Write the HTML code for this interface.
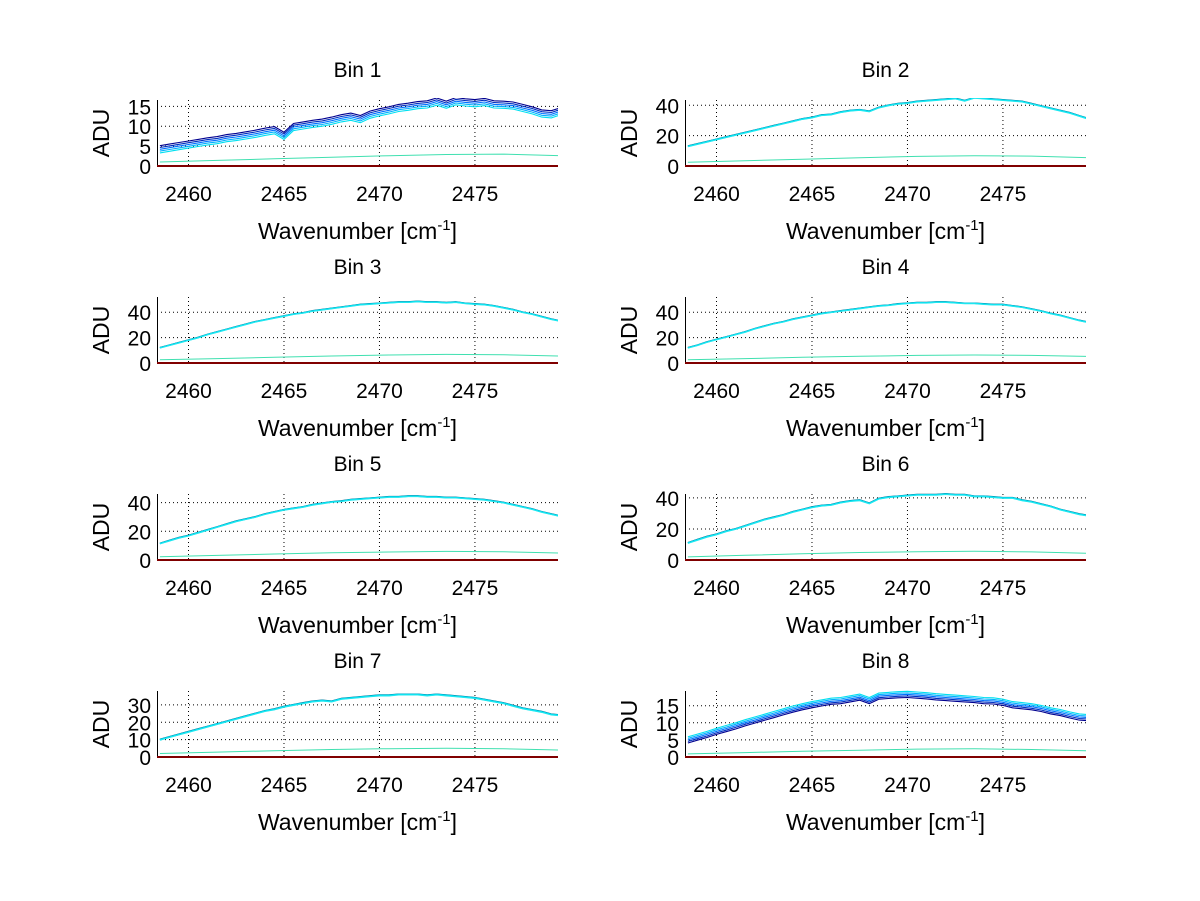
<!DOCTYPE html>
<html><head><meta charset="utf-8"><style>
html,body{margin:0;padding:0;background:#fff;}
svg{display:block;font-family:"Liberation Sans",sans-serif;}
</style></head><body>
<svg id="fig" width="1200" height="901" viewBox="0 0 1200 901" xmlns="http://www.w3.org/2000/svg">
<rect width="1200" height="901" fill="#fff"/>
</svg>
<script>
const xTicks = [2460, 2465, 2470, 2475];
const xMin = 2458.35, xMax = 2479.35;
const xStart = 2458.5, xStep = 0.5;
const lowStep = 3;
const binTitles = ["Bin 1","Bin 2","Bin 3","Bin 4","Bin 5","Bin 6","Bin 7","Bin 8"];
const yMaxes = [16.6, 43.5, 52, 52, 46, 42.5, 38, 19.3];
const yTicks1 = [0,5,10,15];
const yTicks2 = [0,20,40];
const yTicks7 = [0,10,20,30];
const yTicks8 = [0,5,10,15];
const bin1 = [4.2,4.6,5.0,5.4,5.8,6.2,6.5,7.0,7.3,7.7,8.1,8.6,9.0,7.6,9.8,10.2,10.6,10.9,11.4,12.0,12.4,11.8,12.9,13.5,14.0,14.6,14.9,15.3,15.5,16.2,15.4,16.3,16.0,15.8,16.1,15.5,15.4,15.2,14.6,14.0,13.2,13.0,13.8];
const bin2 = [13,14.5,16,17.5,19,20.5,22,23.5,25,26.5,28,29.5,31,32,33.5,34,35.5,36.5,37,36,38.5,40,41,41.5,42.5,43,43.5,44,44.5,43,45,44.5,44,43.5,43,42.5,41,39.5,38,36.5,35,33,31];
const bin3 = [12,14,16,18,20,22.5,24.5,26.5,28.5,30.5,32.5,34,35.5,37,38.5,39.5,41,42,43,44,45,46,46.5,47,47.5,48,48,48.5,48,48,47.5,48,47,46.5,46,45,43.5,42,40,38.5,36.5,34.5,33];
const bin4 = [12,14,16.5,18.5,20.5,22.5,24.5,27,29,31,32.5,34.5,36,37.5,39,40,41,42,43,44,45,45.5,46.5,47,47.5,47.5,48,48,47.5,47,47,46.5,46,46,45,44,42.5,41,39,37.5,35.5,33.5,32];
const bin5 = [11.5,13.5,15.5,17,19,21,23,25,27,28.5,30,32,33.5,35,36,37,38.5,39.5,40.5,41,42,42.5,43,43.5,44,44,44.5,44.5,44,44,43.5,43.5,43,42.5,42,41,40,38.5,37,35.5,33.5,32,30.5];
const bin6 = [11,13,15,16.5,18.5,20,22,24,26,27.5,29,31,32.5,34,35,35.5,37,38,38.5,36.5,39.5,40.5,41,41.5,42,42,42,42.5,42,42,41,41,40.5,40,40,38.5,37.5,36,34.5,32.5,31,29.5,28.5];
const bin7 = [10,11.5,13,14.5,16,17.5,19,20.5,22,23.5,25,26.5,27.5,29,30,31,32,32.5,32,33.5,34,34.5,35,35.5,35.5,36,36,36,35.5,36,35.5,35,34.5,34,33,32,31,29.5,28,27,26,24.5,24];
const bin8 = [5,5.8,6.6,7.5,8.3,9.1,10,10.8,11.6,12.4,13.2,14,14.7,15.3,15.8,16.3,16.5,17,17.5,16.5,17.8,18,18.2,18.3,18.1,17.9,17.6,17.4,17.2,17,16.8,16.5,16.4,16,15.3,15,14.7,14.2,13.5,13,12.3,11.7,11.5];
const low1 = [1.0,1.4,1.8,2.2,2.6,2.9,3.0,2.6];
const low2 = [2.5,3.5,4.5,5.5,6.3,6.8,6.5,5.5];
const low3 = [2.5,3.5,4.5,5.5,6.3,6.8,6.5,5.5];
const low4 = [2.5,3.5,4.5,5.3,6.0,6.3,6.0,5.2];
const low5 = [2.2,3.2,4.2,5.0,5.6,6.0,5.7,4.8];
const low6 = [2.0,3.0,4.0,4.8,5.3,5.6,5.2,4.3];
const low7 = [2.0,2.8,3.6,4.3,4.8,5.0,4.7,4.0];
const low8 = [0.9,1.3,1.7,2.0,2.3,2.4,2.2,1.8];
const spread1 = [0.9,0.45,0,-0.45,-0.9];
const spread8 = [-0.9,-0.45,0,0.45,0.9];
const spreadFlat = [0.3,0.15,0,-0.15,-0.3];
const shades = ["#00008f","#0030c0","#0070ff","#00b0ff","#00e0f0"];
const flatShades = ["#006080","#00c0e0","#00d8f0","#00e0f0","#20e8f0"];

const mains=[bin1,bin2,bin3,bin4,bin5,bin6,bin7,bin8];
const lows=[low1,low2,low3,low4,low5,low6,low7,low8];
const yTicksAll=[yTicks1,yTicks2,yTicks2,yTicks2,yTicks2,yTicks2,yTicks7,yTicks8];
const spreads=[spread1,spreadFlat,spreadFlat,spreadFlat,spreadFlat,spreadFlat,spreadFlat,spread8];

const NS="http://www.w3.org/2000/svg";
const fig=document.getElementById('fig');
function mk(tag,attrs,parent,text){const e=document.createElementNS(NS,tag);for(const k in attrs)e.setAttribute(k,attrs[k]);if(text!==undefined)e.textContent=text;parent.appendChild(e);return e;}

for(let b=0;b<8;b++){
  const col=b%2,row=Math.floor(b/2);
  const L=col?685:157, R=L+401, T=100+row*197, B=166+row*197;
  const ymax=yMaxes[b];
  const xs=v=>L+(v-xMin)/(xMax-xMin)*(R-L);
  const ys=v=>B-v/ymax*(B-T);
  const g=mk('g',{},fig);
  
  
  const clipId='c'+b;
  const cp=mk('clipPath',{id:clipId},g);mk('rect',{x:L,y:T-2,width:R-L,height:B-T+4},cp);
  xTicks.forEach(t=>{const l=mk('line',{x1:xs(t),x2:xs(t),y1:T,y2:B,stroke:'#000','stroke-width':1,'stroke-dasharray':'1,3'},g);
    
    const tx=mk('text',{x:xs(t),y:B+35,'font-size':21,'text-anchor':'middle'},g,String(t));
    });
  yTicksAll[b].forEach(t=>{if(t>0){const l=mk('line',{x1:L,x2:R,y1:ys(t),y2:ys(t),stroke:'#000','stroke-width':1,'stroke-dasharray':'1,3'},g);
    }
    const tx=mk('text',{x:L-6,y:ys(t)+8,'font-size':21,'text-anchor':'end'},g,String(t));
    });
  const ax=mk('line',{x1:L+0.5,x2:L+0.5,y1:T,y2:B,stroke:'#000','stroke-width':1},g);
  
  const dg=mk('g',{'clip-path':'url(#'+clipId+')'},g);
  const lp=lows[b].map((v,i)=>xs(xStart+i*lowStep).toFixed(1)+','+ys(v).toFixed(1)).join(' ');
  const low=mk('polyline',{points:lp,fill:'none',stroke:'#40e0b0','stroke-width':1},dg);
  
  spreads[b].forEach((off,k)=>{
    const pts=mains[b].map((v,i)=>xs(xStart+i*xStep).toFixed(1)+','+ys(v+off).toFixed(1)).join(' ');
    const colr=(b===0||b===7)?shades[k]:flatShades[k];
    const p=mk('polyline',{points:pts,fill:'none',stroke:colr,'stroke-width':1.1},dg);
    
  });
  const z=mk('line',{x1:L,x2:R,y1:B,y2:B,stroke:'#800000','stroke-width':2},g);
  
  const ti=mk('text',{x:(L+R)/2,y:T-23,'font-size':21,'text-anchor':'middle'},g,binTitles[b]);
  
  const xl=mk('text',{x:(L+R)/2,y:B+73,'font-size':23,'text-anchor':'middle'},g);
  
  xl.innerHTML='Wavenumber [cm<tspan dy="-9" font-size="15">-1</tspan><tspan dy="9">]</tspan>';
  const yl=mk('text',{x:0,y:0,'font-size':23,'text-anchor':'middle',transform:'translate('+(L-48)+','+((T+B)/2)+') rotate(-90)'},g,'ADU');
  
}
</script>
</body></html>
